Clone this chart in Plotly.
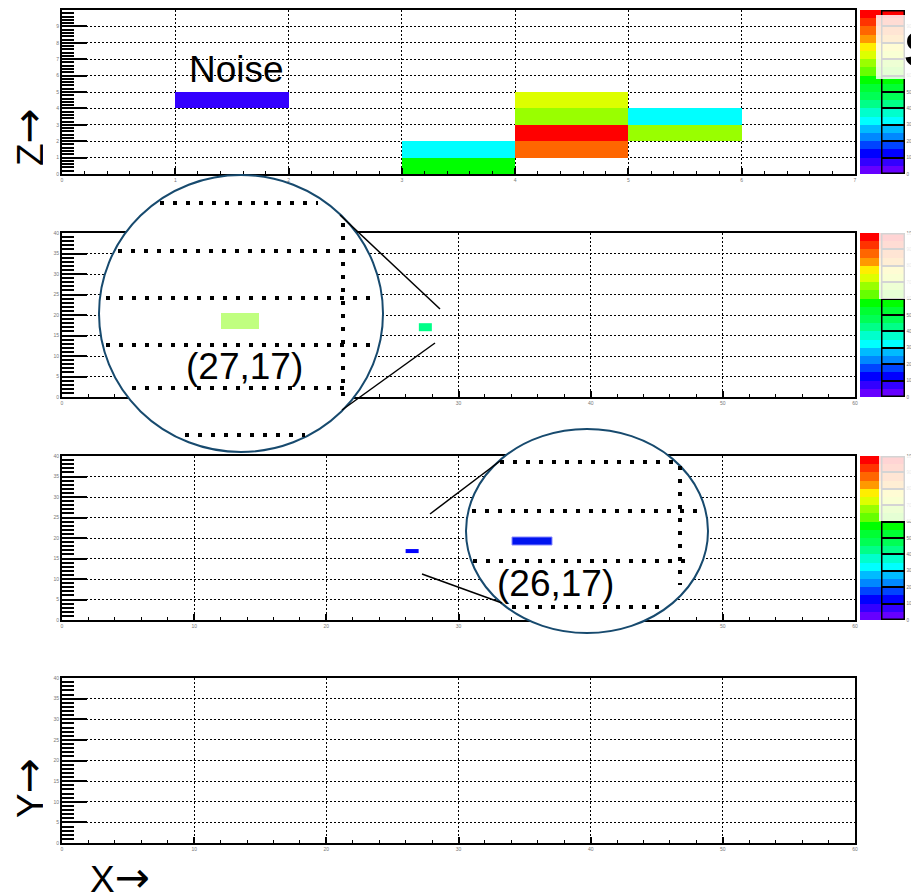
import plotly.graph_objects as go

# The page body has an 8px margin, so the figure is 8px smaller and all
# reference pixel positions are shifted by that offset.
OFF = 8
W, H = 919 - OFF, 896 - OFF


def X(px):
    return (px - OFF) / W


def Y(py):
    return 1 - (py - OFF) / H


# ---------------- data ----------------
# discrete 20-band palette (bottom -> top), values 0..1000
palette = ["#6600ff", "#3300ff", "#0000ff", "#0044ff", "#0088ff",
           "#00bbff", "#00ffff", "#00ffcc", "#00ff88", "#00ff55",
           "#00ff33", "#00ff00", "#66ff00", "#99ff00", "#ddff00",
           "#ffee00", "#ff9900", "#ff6600", "#ff3300", "#ff0000"]
zmin, zmax = 0, 1000
cb_ticks = [0, 100, 200, 300, 400, 500, 600, 700, 800, 900, 1000]

# Panel 1 (X-Z view): hit cells
p1_x = [1, 3, 3, 4, 4, 4, 4, 5, 5]
p1_z = [4, 0, 1, 1, 2, 3, 4, 2, 3]
p1_val = [75, 575, 325, 875, 975, 675, 725, 675, 325]
p1_xedges = [0, 1, 2, 3, 4, 5, 6, 7]
p1_zedges = [0, 1, 2, 3, 4, 5, 6, 7, 8, 9, 10]

# Panel 2 hit (27,17)
p2_xedges = [27, 28]
p2_yedges = [16, 18]
p2_val = [425]

# Panel 3 hit (26,17)
p3_xedges = [26, 27]
p3_yedges = [16.3, 17.3]
p3_val = [140]

# ---------------- build ----------------
colorscale = []
n = len(palette)
for i, c in enumerate(palette):
    colorscale.append([i / n, c])
    colorscale.append([(i + 1) / n, c])

z1 = [[None] * (len(p1_xedges) - 1) for _ in range(len(p1_zedges) - 1)]
for xi, zi, v in zip(p1_x, p1_z, p1_val):
    z1[zi][xi] = v

LEFT, RIGHT = 62, 855
panels = [(10, 174), (233, 397), (456, 620), (678, 843)]


def cbar(top, bottom):
    return dict(x=X(860), xanchor="left", xpad=0,
                y=Y((top + bottom) / 2), yanchor="middle", ypad=0,
                len=bottom - top, lenmode="pixels",
                thickness=45, thicknessmode="pixels",
                outlinewidth=0, borderwidth=0,
                ticks="inside", ticklen=23, tickwidth=1.5, tickcolor="black",
                tickvals=cb_ticks, tickfont=dict(size=4.5, color="#777"))


fig = go.Figure()
fig.add_trace(go.Heatmap(z=z1, x=p1_xedges, y=p1_zedges, zmin=zmin, zmax=zmax,
                         colorscale=colorscale, colorbar=cbar(*panels[0]),
                         xaxis="x", yaxis="y", hoverinfo="skip"))
fig.add_trace(go.Heatmap(z=[p2_val], x=p2_xedges, y=p2_yedges, zmin=zmin, zmax=zmax,
                         colorscale=colorscale, colorbar=cbar(*panels[1]),
                         xaxis="x2", yaxis="y2", hoverinfo="skip"))
fig.add_trace(go.Heatmap(z=[p3_val], x=p3_xedges, y=p3_yedges, zmin=zmin, zmax=zmax,
                         colorscale=colorscale, colorbar=cbar(*panels[2]),
                         xaxis="x3", yaxis="y3", hoverinfo="skip"))
fig.add_trace(go.Scatter(x=[], y=[], xaxis="x4", yaxis="y4", showlegend=False))

axis_common = dict(showline=True, linecolor="black", linewidth=2, mirror=True,
                   ticks="inside", tickcolor="black",
                   showgrid=True, gridcolor="black", gridwidth=1.4, griddash="2px,2px",
                   zeroline=False, fixedrange=True,
                   tickfont=dict(size=5, color="#777"))

layout = dict(width=W, height=H, margin=dict(l=0, r=0, t=0, b=0, autoexpand=False),
              paper_bgcolor="white", plot_bgcolor="white", showlegend=False,
              font=dict(family="Liberation Sans, Arial, sans-serif"))

for i, (top, bot) in enumerate(panels):
    k = "" if i == 0 else str(i + 1)
    if i == 0:
        xr, xd, xm, yr, yd, ym = [0, 7], 1, 0.2, [0, 10], 1, 0.2
    else:
        xr, xd, xm, yr, yd, ym = [0, 60], 10, 2, [0, 40], 5, 1
    layout["xaxis" + k] = dict(axis_common, domain=[X(LEFT), X(RIGHT)], range=xr,
                               dtick=xd, tick0=0, ticklen=6, tickwidth=1.5,
                               anchor="y" + k,
                               minor=dict(dtick=xm, ticks="inside", ticklen=3,
                                          tickwidth=1.2, tickcolor="black", showgrid=False))
    layout["yaxis" + k] = dict(axis_common, domain=[Y(bot), Y(top)], range=yr,
                               dtick=yd, tick0=0, ticklen=25, tickwidth=2,
                               anchor="x" + k,
                               minor=dict(dtick=ym, ticks="inside", ticklen=12,
                                          tickwidth=1.5, tickcolor="black", showgrid=False))

fig.update_layout(**layout)

# ---------------- decorations (magnifier circles) ----------------
shapes = []
CIRC = "#174a6e"
DOT = dict(color="black", width=4, dash="4px,9px")


def seg(x0, y0, x1, y1, line):
    return dict(type="line", xref="paper", yref="paper", x0=X(x0), y0=Y(y0),
                x1=X(x1), y1=Y(y1), line=line, layer="above")


# circle 1
shapes.append(dict(type="circle", xref="paper", yref="paper", x0=X(99), x1=X(383),
                   y0=Y(452), y1=Y(175), fillcolor="white",
                   line=dict(color=CIRC, width=2), layer="above"))
for (a, b, c, d) in [(160, 203, 318, 203), (118, 251, 365, 251), (106, 298, 378, 298),
                     (106, 345, 378, 345), (132, 388, 353, 388), (185, 435, 305, 435),
                     (343, 223, 343, 405)]:
    shapes.append(seg(a, b, c, d, DOT))
shapes.append(dict(type="rect", xref="paper", yref="paper", x0=X(221), x1=X(259),
                   y0=Y(329), y1=Y(313), fillcolor="#c0ff80",
                   line=dict(width=0), layer="above"))
shapes.append(seg(340, 215, 440, 309, dict(color="black", width=1.5)))
shapes.append(seg(342, 410, 435, 343, dict(color="black", width=1.5)))

# circle 2
shapes.append(dict(type="circle", xref="paper", yref="paper", x0=X(466), x1=X(708),
                   y0=Y(633), y1=Y(429), fillcolor="white",
                   line=dict(color=CIRC, width=2), layer="above"))
for (a, b, c, d) in [(500, 462, 677, 462), (472, 511, 702, 511), (473, 561, 690, 561),
                     (512, 607, 663, 607), (680, 466, 680, 585)]:
    shapes.append(seg(a, b, c, d, DOT))
shapes.append(dict(type="rect", xref="paper", yref="paper", x0=X(512), x1=X(552),
                   y0=Y(545), y1=Y(537), fillcolor="#0014f0",
                   line=dict(color="#8888ff", width=1), layer="above"))
shapes.append(seg(430, 514, 500, 461, dict(color="black", width=1.5)))
shapes.append(seg(422, 574, 502, 603, dict(color="black", width=1.5)))

fig.update_layout(shapes=shapes)

# ---------------- annotations ----------------
ann = []
FAM = "Liberation Sans, Arial, sans-serif"
BIG = dict(family=FAM, size=37, color="black")
ARROW = '<span style="font-family:DejaVu Sans;font-size:42px">→</span>'


def text(t, x, y, **kw):
    d = dict(xref="paper", yref="paper", x=X(x), y=Y(y), text=t, showarrow=False,
             font=BIG, xanchor="center", yanchor="middle")
    d.update(kw)
    return d


ann.append(text("Noise", 236, 69))
ann.append(text("(27,17)", 244, 366))
ann.append(text("(26,17)", 555, 583))
ann.append(text("Z" + ARROW, 28, 137, textangle=-90, height=30))
ann.append(text("Y" + ARROW, 28, 788, textangle=-90, height=30))
ann.append(text("X" + ARROW, 120, 877, height=30))

# colorbar right-half frames and translucent boxes
for (top, bot) in panels[:3]:
    ann.append(dict(xref="paper", yref="paper", x=X(881), y=Y(top), xanchor="left",
                    yanchor="top", text=" ", showarrow=False, width=21, height=bot - top - 3,
                    borderpad=0, borderwidth=1.5, bordercolor="black",
                    bgcolor="rgba(0,0,0,0)", font=dict(size=4)))
boxes = [(876, 15, 930, 79), (879, 233, 930, 299), (879, 456, 930, 521)]
for (x0, y0, x1, y1) in boxes:
    ann.append(dict(xref="paper", yref="paper", x=X(x0), y=Y(y0), xanchor="left",
                    yanchor="top", text=" ", showarrow=False, width=x1 - x0, height=y1 - y0,
                    borderpad=0, borderwidth=0, bgcolor="rgba(255,255,255,0.83)",
                    font=dict(size=4)))
ann.append(dict(xref="paper", yref="paper", x=X(902), y=Y(50), xanchor="left",
                yanchor="middle", text="<b>S</b>", showarrow=False,
                font=dict(family=FAM, size=50, color="black")))

fig.update_layout(annotations=ann)

fig.write_html("out.html")
